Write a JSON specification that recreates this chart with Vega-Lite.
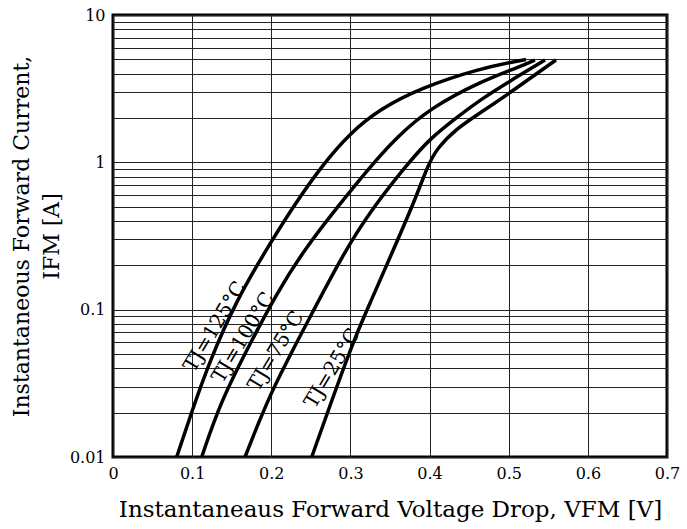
{
  "$schema": "https://vega.github.io/schema/vega-lite/v6.json",
  "width": 554,
  "height": 442,
  "autosize": {"type": "none"},
  "padding": {"left": 113, "top": 15, "right": 20, "bottom": 72},
  "background": "white",
  "config": {
    "view": {"stroke": "black", "strokeWidth": 3},
    "font": "DejaVu Serif"
  },
  "datasets": {
    "curves": [
      {"tj": "125", "v": 0.0805, "i": 0.01},
      {"tj": "125", "v": 0.0973, "i": 0.01877},
      {"tj": "125", "v": 0.1226, "i": 0.04555},
      {"tj": "125", "v": 0.1563, "i": 0.1163},
      {"tj": "125", "v": 0.1933, "i": 0.2541},
      {"tj": "125", "v": 0.2285, "i": 0.51},
      {"tj": "125", "v": 0.264, "i": 0.95},
      {"tj": "125", "v": 0.2995, "i": 1.58},
      {"tj": "125", "v": 0.3374, "i": 2.3},
      {"tj": "125", "v": 0.3879, "i": 3.18},
      {"tj": "125", "v": 0.4637, "i": 4.35},
      {"tj": "125", "v": 0.5218, "i": 4.99},
      {"tj": "100", "v": 0.1121, "i": 0.01},
      {"tj": "100", "v": 0.1352, "i": 0.02314},
      {"tj": "100", "v": 0.1689, "i": 0.05325},
      {"tj": "100", "v": 0.2068, "i": 0.1291},
      {"tj": "100", "v": 0.2413, "i": 0.2541},
      {"tj": "100", "v": 0.2856, "i": 0.5133},
      {"tj": "100", "v": 0.3247, "i": 0.9298},
      {"tj": "100", "v": 0.3585, "i": 1.486},
      {"tj": "100", "v": 0.4005, "i": 2.327},
      {"tj": "100", "v": 0.4637, "i": 3.527},
      {"tj": "100", "v": 0.5143, "i": 4.459},
      {"tj": "100", "v": 0.5332, "i": 4.95},
      {"tj": "75", "v": 0.1668, "i": 0.01},
      {"tj": "75", "v": 0.1984, "i": 0.02706},
      {"tj": "75", "v": 0.2405, "i": 0.07278},
      {"tj": "75", "v": 0.2931, "i": 0.2541},
      {"tj": "75", "v": 0.331, "i": 0.5133},
      {"tj": "75", "v": 0.3711, "i": 0.9594},
      {"tj": "75", "v": 0.4005, "i": 1.456},
      {"tj": "75", "v": 0.4385, "i": 2.096},
      {"tj": "75", "v": 0.4637, "i": 2.649},
      {"tj": "75", "v": 0.5016, "i": 3.565},
      {"tj": "75", "v": 0.5458, "i": 4.95},
      {"tj": "25", "v": 0.2511, "i": 0.01},
      {"tj": "25", "v": 0.2826, "i": 0.03},
      {"tj": "25", "v": 0.3079, "i": 0.06912},
      {"tj": "25", "v": 0.3247, "i": 0.1105},
      {"tj": "25", "v": 0.3525, "i": 0.2424},
      {"tj": "25", "v": 0.3816, "i": 0.555},
      {"tj": "25", "v": 0.398, "i": 0.9594},
      {"tj": "25", "v": 0.4094, "i": 1.245},
      {"tj": "25", "v": 0.4343, "i": 1.702},
      {"tj": "25", "v": 0.4637, "i": 2.162},
      {"tj": "25", "v": 0.5007, "i": 2.942},
      {"tj": "25", "v": 0.5597, "i": 4.95}
    ],
    "labels": [
      {"label": "TJ=125°C", "v": 0.1289, "i": 0.0766},
      {"label": "TJ=100°C", "v": 0.1646, "i": 0.0647},
      {"label": "TJ=75°C", "v": 0.206, "i": 0.0524},
      {"label": "TJ=25°C", "v": 0.2773, "i": 0.04}
    ]
  },
  "layer": [
    {
      "data": {"name": "curves"},
      "mark": {"type": "line", "interpolate": "basis", "color": "black", "strokeWidth": 3.5},
      "encoding": {
        "x": {
          "field": "v", "type": "quantitative",
          "scale": {"domain": [0, 0.7], "nice": false, "zero": false},
          "axis": {
            "values": [0, 0.1, 0.2, 0.3, 0.4, 0.5, 0.6, 0.7],
            "format": "~g",
            "grid": true, "gridColor": "#222", "gridWidth": 1, "gridOpacity": 1,
            "ticks": false, "domain": false, "labelFlush": false,
            "labelFontSize": 16, "labelColor": "black", "labelPadding": 8,
            "title": "Instantaneaus Forward Voltage Drop, VFM [V]",
            "titleFontSize": 23, "titleFontWeight": "normal", "titleColor": "black", "titlePadding": 17
          }
        },
        "y": {
          "field": "i", "type": "quantitative",
          "scale": {"type": "log", "domain": [0.01, 10], "nice": false},
          "axis": {
            "values": [0.01, 0.02, 0.03, 0.04, 0.05, 0.06, 0.07, 0.08, 0.09, 0.1, 0.2, 0.3, 0.4, 0.5, 0.6, 0.7, 0.8, 0.9, 1, 2, 3, 4, 5, 6, 7, 8, 9, 10],
            "labelExpr": "abs(log(datum.value)/LN10 - round(log(datum.value)/LN10)) < 1e-6 ? format(datum.value, '~g') : ''",
            "labelOverlap": false,
            "grid": true, "gridColor": "#222", "gridWidth": 1, "gridOpacity": 1,
            "ticks": false, "domain": false, "labelFlush": false,
            "labelFontSize": 16, "labelColor": "black", "labelPadding": 8,
            "title": ["Instantaneous Forward Current,", "IFM [A]"],
            "titleFontSize": 22, "titleFontWeight": "normal", "titleColor": "black", "titlePadding": 6, "titleLineHeight": 30
          }
        },
        "detail": {"field": "tj"}
      }
    },
    {
      "data": {"name": "labels"},
      "mark": {"type": "text", "angle": -59, "fontSize": 20, "font": "DejaVu Serif", "color": "black", "align": "center", "baseline": "middle"},
      "encoding": {
        "x": {"field": "v", "type": "quantitative"},
        "y": {"field": "i", "type": "quantitative"},
        "text": {"field": "label"}
      }
    }
  ]
}
